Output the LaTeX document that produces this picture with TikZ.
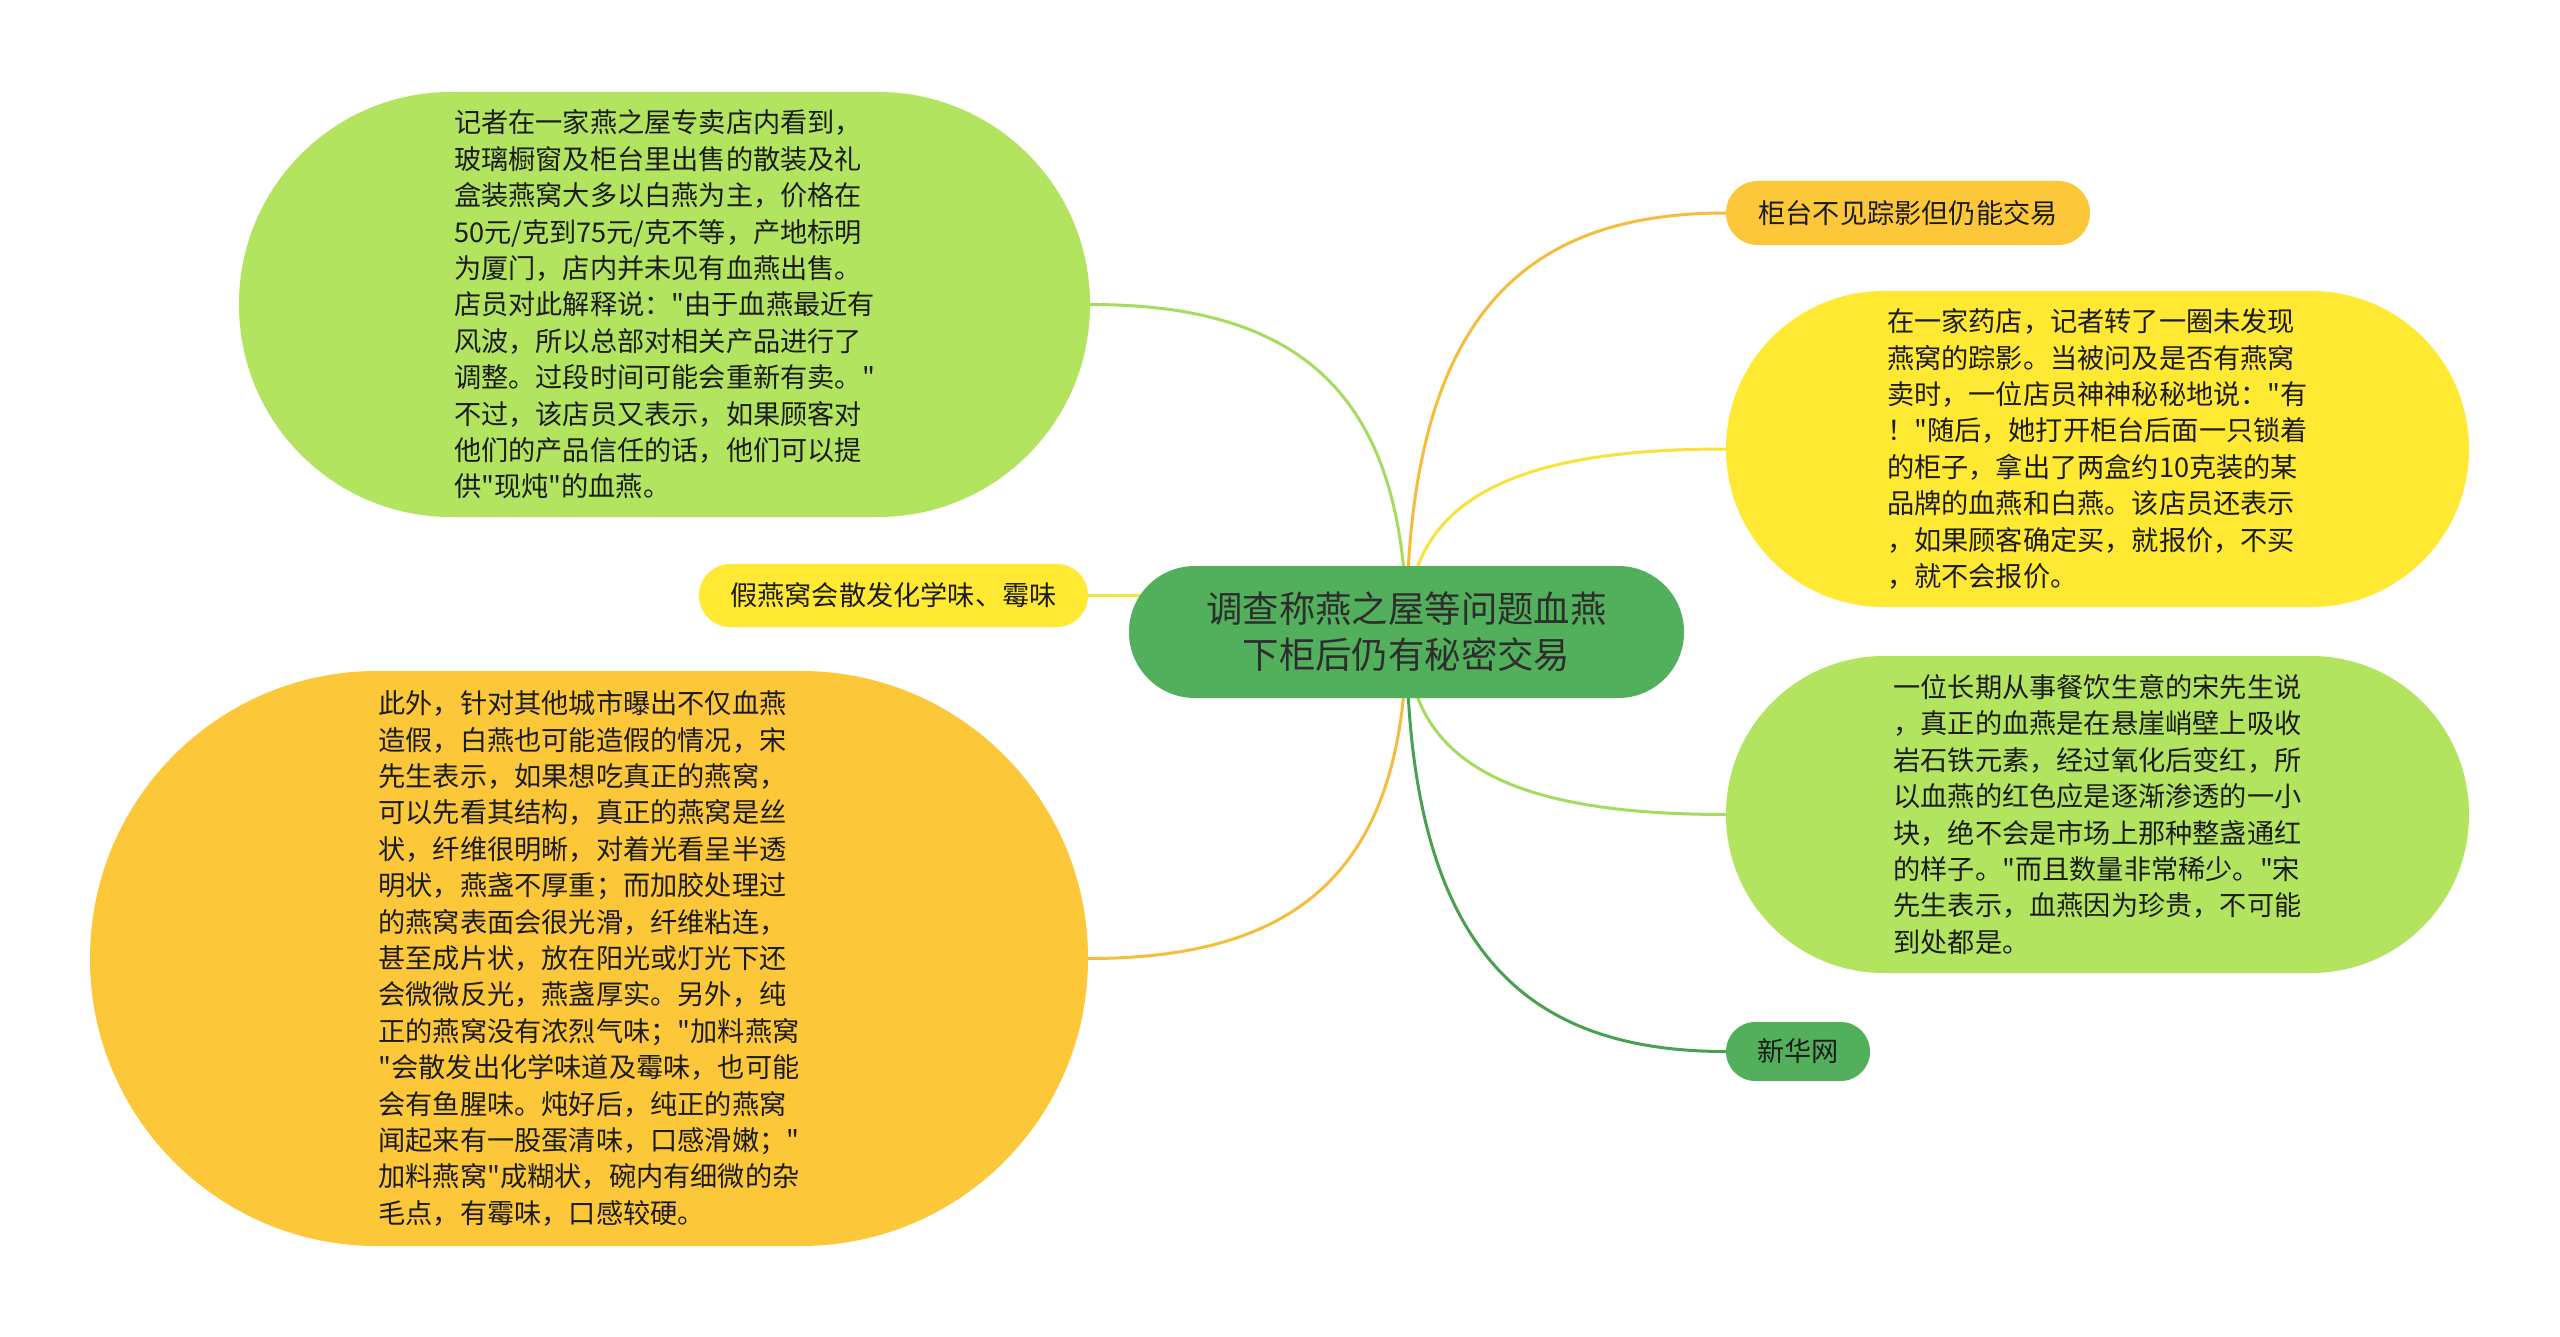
\documentclass[tikz,border=0pt]{standalone}
\usepackage{fontspec}
\setmainfont{Noto Sans CJK SC}[Ligatures=TeXOff]
\usetikzlibrary{calc,backgrounds}
\definecolor{rootg}{RGB}{82,175,91}
\definecolor{lgreen}{RGB}{178,228,96}
\definecolor{yel}{RGB}{255,233,50}
\definecolor{orn}{RGB}{252,200,58}
\definecolor{txt}{RGB}{28,28,28}
\definecolor{lgline}{RGB}{165,220,95}
\definecolor{yline}{RGB}{250,226,60}
\definecolor{oline}{RGB}{244,190,60}
\definecolor{gline}{RGB}{72,160,80}
\tikzset{
  pill/.style={rectangle, inner sep=0pt, align=left, text=txt},
  body/.style={font=\fontsize{13.6pt}{18.2pt}\selectfont},
  conn/.style={line width=1.5pt, line cap=round},
}
\begin{document}
\begin{tikzpicture}[x=0.5pt,y=-0.5pt]
\useasboundingbox (0,0) rectangle (2560,1337);

% root
\node[pill, fill=rootg, align=center, text={rgb,255:red,45;green,45;blue,45},
      font=\fontsize{18.2pt}{23pt}\selectfont,
      minimum width=277.5pt, minimum height=66pt, rounded corners=32.9pt]
  (root) at (1406.5,632) {调查称燕之屋等问题血燕\\下柜后仍有秘密交易};

% left side
\node[pill, body, fill=lgreen, minimum width=425.5pt, minimum height=212.5pt, rounded corners=106pt]
  (tl) at (664.5,304.5) {记者在一家燕之屋专卖店内看到，\\玻璃橱窗及柜台里出售的散装及礼\\盒装燕窝大多以白燕为主，价格在\\50元/克到75元/克不等，产地标明\\为厦门，店内并未见有血燕出售。\\店员对此解释说："由于血燕最近有\\风波，所以总部对相关产品进行了\\调整。过段时间可能会重新有卖。"\\不过，该店员又表示，如果顾客对\\他们的产品信任的话，他们可以提\\供"现炖"的血燕。};

\node[pill, body, fill=yel, minimum width=194.5pt, minimum height=31.5pt, rounded corners=15.7pt]
  (fake) at (893.5,595.5) {假燕窝会散发化学味、霉味};

\node[pill, body, fill=orn, minimum width=499pt, minimum height=287.5pt, rounded corners=143.5pt]
  (bl) at (589,958.5) {此外，针对其他城市曝出不仅血燕\\造假，白燕也可能造假的情况，宋\\先生表示，如果想吃真正的燕窝，\\可以先看其结构，真正的燕窝是丝\\状，纤维很明晰，对着光看呈半透\\明状，燕盏不厚重；而加胶处理过\\的燕窝表面会很光滑，纤维粘连，\\甚至成片状，放在阳光或灯光下还\\会微微反光，燕盏厚实。另外，纯\\正的燕窝没有浓烈气味；"加料燕窝\\"会散发出化学味道及霉味，也可能\\会有鱼腥味。炖好后，纯正的燕窝\\闻起来有一股蛋清味，口感滑嫩；"\\加料燕窝"成糊状，碗内有细微的杂\\毛点，有霉味，口感较硬。};

% right side
\node[pill, body, fill=orn, minimum width=182pt, minimum height=32pt, rounded corners=15.9pt]
  (gui) at (1908,213) {柜台不见踪影但仍能交易};

\node[pill, body, fill=yel, minimum width=371.5pt, minimum height=158pt, rounded corners=78.9pt]
  (yr) at (2097.5,449) {在一家药店，记者转了一圈未发现\\燕窝的踪影。当被问及是否有燕窝\\卖时，一位店员神神秘秘地说："有\\！"随后，她打开柜台后面一只锁着\\的柜子，拿出了两盒约10克装的某\\品牌的血燕和白燕。该店员还表示\\，如果顾客确定买，就报价，不买\\，就不会报价。};

\node[pill, body, fill=lgreen, minimum width=371.5pt, minimum height=158.5pt, rounded corners=79pt]
  (gr) at (2097.5,814.5) {一位长期从事餐饮生意的宋先生说\\，真正的血燕是在悬崖峭壁上吸收\\岩石铁元素，经过氧化后变红，所\\以血燕的红色应是逐渐渗透的一小\\块，绝不会是市场上那种整盏通红\\的样子。"而且数量非常稀少。"宋\\先生表示，血燕因为珍贵，不可能\\到处都是。};

\node[pill, body, fill=rootg, minimum width=72pt, minimum height=29.5pt, rounded corners=14.7pt]
  (xh) at (1798,1051.5) {新华网};

\begin{scope}[on background layer]
\fill[white] (0,0) rectangle (2560,1337);
\foreach \tgt/\col in {tl.east/lgline, fake.east/yline, bl.east/oline,
                        gui.west/oline, yr.west/yline, gr.west/lgline, xh.west/gline}{
  \draw[conn, draw=\col] let \p1=(root.center), \p2=(\tgt) in
    (\p1) .. controls (\x1,{\y1+0.74*(\y2-\y1)}) and ({\x1+0.35*(\x2-\x1)},\y2) .. (\p2);
}
\end{scope}
\end{tikzpicture}
\end{document}
